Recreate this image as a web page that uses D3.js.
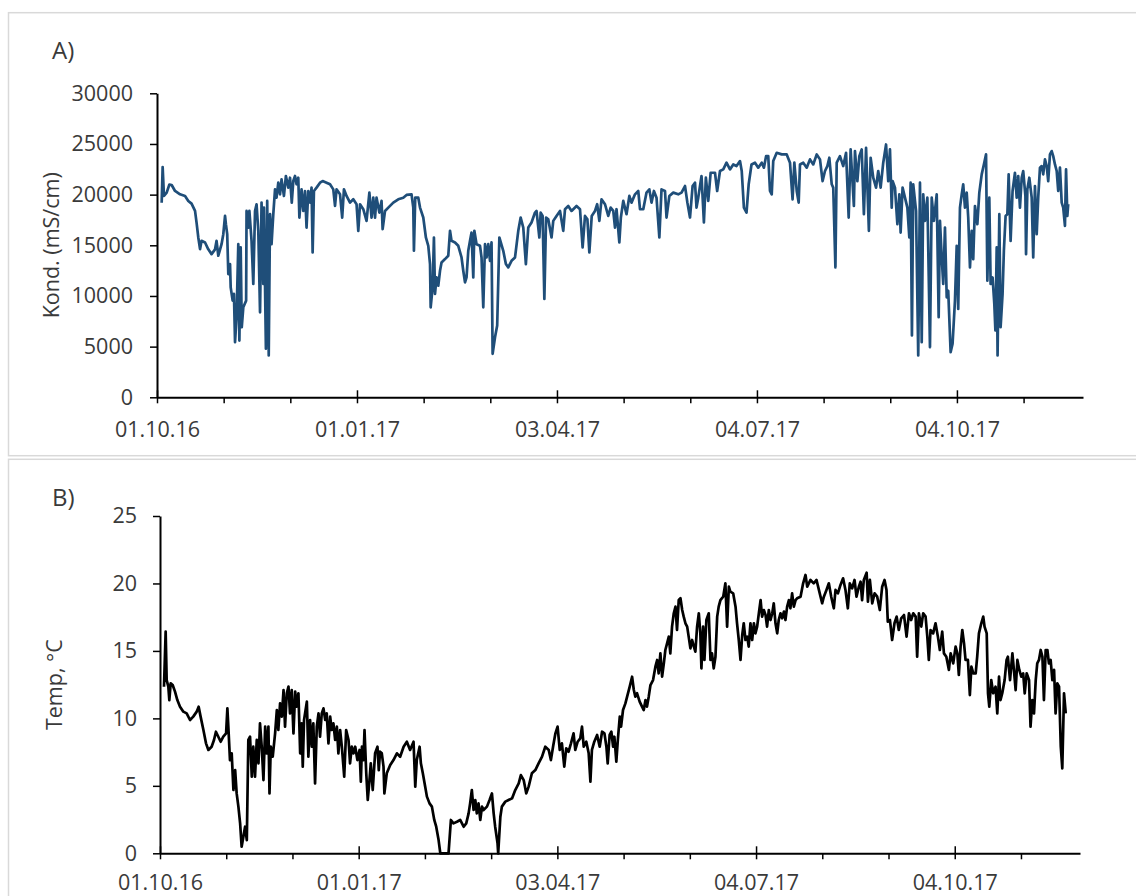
<!DOCTYPE html>
<html>
<head>
<meta charset="utf-8">
<script src="https://cdn.jsdelivr.net/npm/d3@7"></script>
<style>
    body { margin: 0; background: #fff; }
    text { font-family: "Open Sans", sans-serif; fill: #3a3a3a; }
</style>
</head>
<body>
<svg id="chart" width="1136" height="896"></svg>
<script>
'use strict';

// measurement start and labelled dates on the time axis
var startDay = "2016-10-01";
var endDay = "2017-12-01";
var majorDates = ["2016-10-01", "2017-01-01", "2017-04-03", "2017-07-04", "2017-10-04"];

var kondTicks = [0, 5000, 10000, 15000, 20000, 25000, 30000];
var tempTicks = [0, 5, 10, 15, 20, 25];

// conductivity: days after start, value in mS/cm
var kondDays = [2.15, 2.6, 3.2, 4.45, 5.7, 6.75, 8.3, 10.6, 12.9, 14.4, 15.9, 17.5, 18.2, 19.0, 19.8, 20.5,
    22.1, 23.6, 25.1, 26.7, 27.4, 28.2, 29.7, 30.5, 31.3, 31.7, 32.3, 32.8, 33.6, 33.9, 34.8, 35.4,
    35.9, 36.6, 37.4, 37.9, 38.5, 39.0, 39.7, 41.0, 41.2, 42.0, 42.5, 43.5, 44.3, 45.1, 45.8, 46.6,
    47.4, 48.1, 48.9, 49.2, 50.1, 50.7, 51.4, 52.0, 52.7, 53.5, 54.3, 55.0, 55.8, 56.6, 57.3, 58.4,
    59.3, 60.4, 61.2, 62.0, 62.7, 63.5, 64.2, 65.0, 65.5, 66.5, 67.3, 68.1, 68.8, 69.6, 70.4, 71.1,
    71.6, 72.2, 73.4, 75.0, 76.2, 78.0, 79.6, 81.1, 81.9, 82.6, 84.2, 85.2, 86.0, 87.2, 88.8, 90.3,
    91.8, 92.6, 93.4, 94.9, 96.4, 97.7, 98.7, 99.5, 100.3, 101.0, 102.3, 103.3, 103.8, 104.9, 106.4, 108.7,
    111.0, 113.3, 114.8, 117.1, 117.9, 118.2, 118.8, 120.2, 121.0, 122.5, 123.7, 124.8, 125.6, 125.9, 126.8, 127.4,
    127.9, 128.6, 129.4, 130.2, 130.9, 132.5, 134.0, 134.8, 135.5, 137.1, 138.6, 140.1, 140.9, 141.7, 142.4, 143.2,
    144.0, 144.7, 145.5, 146.0, 147.0, 148.6, 149.3, 150.1, 150.9, 151.6, 152.4, 153.2, 153.9, 154.4, 155.5, 156.5,
    157.5, 159.3, 160.5, 161.6, 163.1, 164.7, 166.2, 167.3, 168.5, 169.7, 170.8, 172.3, 173.9, 174.6, 175.9, 176.5,
    177.4, 178.2, 179.0, 180.0, 181.5, 182.3, 183.8, 185.4, 186.9, 187.7, 189.2, 190.7, 193.0, 194.6, 195.8, 196.9,
    198.0, 198.9, 200.0, 201.5, 202.5, 203.5, 204.5, 206.1, 207.6, 208.7, 209.9, 210.7, 211.4, 212.7, 213.4, 214.5,
    216.0, 217.3, 218.3, 219.9, 221.4, 222.2, 223.7, 225.2, 226.5, 227.5, 228.6, 229.8, 231.1, 232.1, 233.7, 234.4,
    235.7, 237.5, 239.8, 241.3, 242.9, 244.0, 245.2, 246.4, 247.5, 248.2, 249.0, 250.5, 251.6, 252.5, 253.6, 254.7,
    256.7, 257.7, 259.0, 260.5, 262.0, 263.6, 265.1, 266.6, 268.2, 269.0, 270.0, 271.2, 272.2, 273.5, 275.1, 276.6,
    278.2, 279.2, 280.2, 281.2, 282.0, 282.8, 283.5, 285.1, 287.4, 289.7, 291.2, 292.4, 293.2, 294.3, 295.2, 295.8,
    297.3, 298.9, 300.4, 301.9, 303.5, 305.0, 306.2, 307.3, 308.4, 309.3, 310.4, 311.1, 312.1, 312.7, 314.2, 315.7,
    317.0, 318.2, 319.1, 320.6, 321.1, 322.2, 323.1, 324.2, 325.2, 326.2, 327.5, 328.3, 329.5, 330.8, 331.8, 332.9,
    334.1, 335.4, 336.4, 337.2, 338.0, 338.4, 339.5, 340.6, 341.5, 342.1, 343.0, 344.1, 345.2, 346.1, 346.7, 347.3,
    347.9, 349.2, 350.2, 351.0, 351.8, 352.5, 353.3, 354.4, 355.6, 356.4, 357.4, 358.7, 359.6, 360.2, 361.0, 361.7,
    362.5, 363.3, 364.0, 365.1, 366.0, 367.1, 367.9, 368.6, 369.4, 370.2, 370.9, 371.7, 372.5, 373.2, 374.0, 374.8,
    375.5, 376.3, 377.4, 378.3, 379.4, 380.4, 381.4, 382.0, 382.9, 383.5, 384.4, 385.2, 385.7, 386.3, 386.7, 387.5,
    388.1, 389.0, 389.6, 390.4, 391.2, 391.8, 392.7, 393.6, 394.7, 395.5, 396.2, 397.0, 397.8, 398.5, 399.5, 399.8,
    400.4, 401.3, 402.4, 403.1, 403.9, 404.7, 405.4, 406.2, 407.0, 407.7, 408.5, 409.3, 410.0, 410.8, 411.6, 412.3,
    413.1, 413.9, 414.6, 415.4, 416.2, 416.9, 417.7, 418.2, 418.8, 419.2];
var kondValues = [19200, 22720, 19870, 20200, 21000, 20950, 20360, 20030, 19870, 19380, 19110, 18390, 17240, 15770, 14620, 15440,
    15280, 14600, 14130, 14600, 15440, 13970, 15110, 16100, 17900, 17080, 16100, 12160, 13150, 10850, 9540, 10200,
    5440, 7900, 15110, 5600, 14790, 6920, 8880, 9540, 18390, 16750, 18390, 15440, 11180, 18390, 19050, 16430,
    8390, 19210, 11180, 18720, 4790, 19380, 4130, 18070, 15110, 18070, 20520, 19700, 21180, 20030, 21510, 19870,
    21840, 20690, 21670, 19210, 21340, 21840, 21020, 21670, 17740, 20520, 18390, 20360, 16750, 20360, 19210, 20690,
    14290, 20360, 20690, 21180, 21340, 21180, 21020, 20520, 18880, 20520, 20030, 17740, 20520, 19870, 19210, 19540,
    19050, 16430, 19050, 18560, 17410, 20200, 17740, 19700, 17740, 19700, 18230, 19380, 16590, 18390, 18720, 19210,
    19540, 19700, 19970, 20030, 18720, 14460, 19700, 19700, 18720, 17740, 15770, 14950, 13150, 8880, 10850, 15770,
    10200, 11830, 11010, 12490, 13310, 13640, 13970, 16430, 15440, 15280, 14950, 13800, 12490, 11340, 11830, 14460,
    15440, 16260, 11830, 16430, 15110, 14950, 13800, 8880, 15110, 13800, 15110, 13470, 15280, 4290, 5930, 7080,
    15770, 14460, 13150, 12820, 13470, 13800, 16430, 17740, 16750, 13150, 16750, 17250, 18230, 18390, 15770, 18230,
    17900, 9700, 17740, 17570, 15770, 17410, 17900, 18390, 16430, 18560, 18880, 18390, 18880, 18560, 14790, 17900,
    17570, 14290, 17900, 18390, 19050, 17410, 19540, 19050, 17900, 18720, 18390, 16750, 18560, 15280, 17740, 19380,
    18070, 19870, 19210, 20030, 20360, 18560, 18560, 20200, 20520, 19210, 20360, 19700, 15770, 20520, 20360, 17740,
    19870, 20200, 20030, 20200, 20850, 19210, 17740, 20850, 21180, 18720, 19700, 21840, 17250, 21670, 19380, 22160,
    22160, 20360, 22330, 22490, 23150, 22490, 22980, 22820, 23310, 22330, 18720, 18230, 21020, 22980, 23150, 22660,
    23150, 22660, 23800, 23800, 20360, 20030, 23310, 24130, 23970, 23970, 23150, 19540, 23150, 20360, 19210, 22980,
    23150, 22660, 23480, 22980, 23970, 23480, 21340, 22330, 22820, 23640, 21020, 20690, 12820, 23150, 23800, 22820,
    24130, 17740, 24460, 18880, 24300, 21340, 23800, 24460, 18070, 24620, 16430, 23640, 21670, 20690, 22330, 20690,
    23150, 24950, 21340, 24460, 18720, 21340, 20690, 17080, 20030, 16260, 20690, 19700, 18720, 15770, 21180, 6100,
    21020, 18390, 4130, 21180, 5440, 20030, 17410, 19700, 4950, 19700, 17410, 20030, 7900, 17410, 13800, 11180,
    16750, 9870, 10520, 4460, 5280, 9540, 14950, 8720, 18720, 20030, 21020, 18720, 20200, 17740, 12820, 16430,
    13640, 18880, 17080, 20200, 22000, 22980, 23970, 11510, 19700, 11180, 11830, 9210, 6590, 14790, 4130, 18070,
    6920, 10200, 14460, 17900, 18070, 22000, 15440, 20360, 22160, 19700, 21840, 18720, 21670, 22330, 19870, 14130,
    20520, 21670, 19700, 13800, 20850, 16100, 19700, 22660, 22820, 22000, 23480, 22820, 21340, 23970, 24300, 23800,
    22980, 22330, 20360, 22660, 19210, 18720, 16920, 22490, 17900, 19050];

// water temperature: days after start, value in °C
var tempDays = [1.85, 2.62, 3.09, 3.86, 4.32, 4.94, 5.87, 6.95, 8.03, 9.27, 10.81, 12.35, 13.9, 15.4, 17.0, 17.9,
    18.8, 20.1, 21.3, 22.4, 23.9, 25.0, 25.9, 27.0, 28.1, 29.3, 30.6, 31.2, 31.8, 32.4, 33.2, 34.0,
    34.8, 35.5, 36.3, 37.1, 37.8, 38.6, 39.4, 40.2, 40.9, 41.7, 42.5, 43.2, 44.0, 44.8, 45.6, 46.3,
    47.1, 47.9, 48.7, 49.4, 50.2, 50.7, 51.3, 52.2, 53.3, 54.1, 54.8, 55.6, 56.4, 57.2, 57.9, 58.7,
    59.5, 60.2, 61.0, 61.8, 62.6, 63.3, 64.1, 64.9, 65.6, 66.1, 66.7, 68.0, 68.7, 69.5, 70.3, 71.0,
    71.8, 72.6, 73.4, 74.1, 74.9, 75.7, 76.5, 77.2, 78.0, 78.8, 79.5, 80.3, 81.1, 81.9, 82.6, 83.4,
    84.2, 85.3, 86.2, 87.3, 88.0, 88.8, 89.6, 90.4, 91.4, 92.4, 93.0, 93.5, 94.2, 94.7, 95.5, 96.2,
    97.0, 97.6, 98.5, 99.6, 100.7, 101.3, 101.9, 102.7, 103.5, 103.9, 105.0, 106.6, 108.1, 109.7, 111.2, 112.8,
    114.3, 115.8, 117.4, 118.2, 118.9, 120.2, 120.8, 121.7, 122.8, 123.6, 124.8, 125.9, 127.0, 127.9, 129.0, 129.8,
    133.6, 134.7, 135.9, 137.5, 139.0, 140.6, 141.8, 142.9, 143.6, 144.4, 145.2, 146.0, 146.7, 147.5, 148.3, 149.1,
    149.8, 151.4, 152.6, 153.7, 154.5, 155.2, 156.3, 156.6, 157.6, 158.3, 159.9, 161.4, 163.0, 164.5, 166.1, 167.1,
    168.4, 169.6, 170.7, 172.2, 173.8, 175.3, 176.9, 178.4, 180.0, 181.0, 182.0, 183.1, 184.1, 185.1, 186.1, 187.2,
    188.1, 189.2, 190.3, 191.5, 192.3, 193.4, 194.6, 195.4, 196.2, 197.4, 198.5, 199.3, 200.0, 201.1, 202.4, 203.6,
    204.7, 205.8, 206.7, 207.3, 208.2, 209.0, 209.8, 210.4, 211.3, 212.0, 212.9, 213.5, 214.4, 215.5, 216.3, 217.5,
    218.6, 219.4, 220.1, 220.9, 222.1, 223.2, 224.0, 224.8, 225.5, 226.3, 227.1, 228.3, 229.4, 230.2, 230.9, 231.7,
    232.5, 233.3, 234.0, 234.8, 235.6, 236.3, 237.1, 237.9, 238.7, 239.4, 240.2, 241.0, 241.8, 242.5, 243.3, 244.1,
    244.8, 245.6, 246.4, 247.2, 247.9, 248.7, 249.5, 250.2, 250.7, 251.5, 252.1, 253.0, 254.1, 254.9, 255.6, 256.4,
    257.2, 258.0, 258.7, 259.5, 260.8, 261.8, 262.6, 263.4, 264.1, 265.4, 266.5, 267.2, 268.0, 268.8, 269.6, 270.3,
    271.1, 271.9, 272.6, 273.4, 274.2, 275.0, 275.7, 276.5, 277.3, 278.1, 278.8, 279.6, 280.4, 281.1, 281.9, 282.7,
    283.5, 284.2, 285.0, 285.8, 286.5, 287.3, 288.1, 288.9, 289.6, 290.4, 291.2, 291.9, 292.7, 293.5, 294.3, 295.0,
    296.6, 297.8, 298.9, 299.7, 301.2, 302.7, 304.0, 305.1, 306.6, 307.4, 308.6, 309.7, 310.8, 312.0, 312.8, 313.9,
    315.1, 316.3, 317.4, 318.5, 319.4, 320.5, 321.6, 322.5, 323.6, 324.4, 325.1, 325.9, 327.2, 327.8, 328.7, 329.8,
    330.9, 332.1, 333.3, 334.4, 335.5, 336.4, 337.0, 338.0, 339.0, 340.1, 341.1, 342.1, 343.2, 344.5, 345.7, 346.8,
    347.8, 348.8, 349.9, 350.6, 351.4, 352.5, 353.4, 354.5, 355.3, 356.0, 356.8, 358.0, 359.1, 360.2, 361.1, 362.2,
    363.0, 364.1, 365.3, 366.1, 367.3, 368.4, 369.2, 369.9, 370.7, 371.5, 372.3, 373.0, 374.1, 375.0, 375.7, 376.6,
    377.7, 378.4, 379.2, 380.3, 381.2, 381.8, 382.8, 383.4, 384.0, 384.9, 385.8, 386.9, 387.7, 388.5, 389.2, 390.0,
    391.1, 392.0, 392.6, 393.6, 394.7, 395.4, 396.2, 397.0, 397.9, 398.8, 399.7, 400.4, 401.3, 402.4, 403.1, 403.9,
    404.7, 405.5, 406.2, 407.0, 407.8, 408.6, 409.3, 410.1, 410.9, 411.6, 412.4, 413.2, 414.0, 414.7, 415.5, 416.3,
    417.1, 417.8, 418.6, 419.4];
var tempValues = [12.35, 16.43, 12.84, 12.35, 11.36, 12.60, 12.47, 11.98, 11.36, 10.87, 10.50, 10.37, 9.88, 10.13, 10.50, 10.87,
    10.13, 9.14, 8.15, 7.66, 7.90, 8.40, 9.01, 8.64, 8.27, 8.64, 8.89, 10.74, 8.89, 6.91, 7.41, 4.69,
    6.17, 4.44, 3.46, 2.22, 0.49, 1.23, 1.97, 0.98, 8.40, 8.64, 5.68, 7.90, 5.68, 8.40, 6.67, 9.63,
    7.90, 5.43, 9.39, 7.41, 9.39, 4.44, 7.90, 7.16, 8.89, 10.62, 9.14, 11.11, 10.13, 12.10, 9.39, 11.86,
    12.35, 10.37, 12.10, 8.89, 11.98, 10.87, 11.86, 7.41, 9.63, 6.42, 9.88, 11.24, 7.16, 9.88, 7.90, 9.63,
    5.18, 9.39, 10.37, 8.64, 10.37, 10.74, 9.88, 10.37, 8.15, 10.13, 9.14, 9.63, 8.40, 9.39, 7.41, 9.14,
    7.90, 5.68, 9.14, 8.40, 6.67, 7.90, 7.41, 7.90, 6.91, 7.66, 5.31, 7.90, 6.91, 9.14, 5.93, 3.95,
    5.43, 6.67, 4.69, 7.41, 7.90, 6.17, 7.53, 7.41, 6.42, 4.44, 5.93, 6.54, 6.91, 7.41, 7.16, 7.90,
    8.27, 7.66, 8.27, 4.94, 6.91, 7.90, 6.67, 5.93, 4.94, 4.20, 3.70, 3.46, 2.47, 1.97, 0.98, 0,
    0, 2.47, 2.22, 2.34, 2.47, 1.97, 2.22, 2.96, 3.70, 4.69, 3.21, 3.95, 2.96, 3.70, 2.47, 3.46,
    3.21, 3.46, 3.95, 4.44, 2.96, 1.97, 0.74, 0, 2.71, 3.46, 3.83, 3.95, 4.07, 4.69, 5.18, 5.80,
    5.43, 4.44, 4.94, 5.93, 6.17, 6.67, 7.16, 7.90, 7.66, 6.91, 7.90, 8.89, 9.39, 7.66, 8.15, 6.42,
    7.78, 7.53, 8.15, 8.89, 7.66, 8.27, 8.52, 9.39, 7.90, 8.27, 7.41, 5.31, 7.66, 8.27, 8.77, 7.90,
    9.01, 8.89, 7.90, 6.67, 8.77, 9.01, 7.90, 8.64, 6.79, 8.40, 10.13, 9.39, 10.62, 11.11, 11.61, 12.35,
    13.09, 12.10, 11.61, 11.86, 11.24, 10.87, 10.62, 11.36, 10.87, 11.61, 12.47, 12.84, 13.83, 14.33, 13.34, 14.82,
    13.09, 14.08, 15.07, 15.56, 16.06, 14.82, 16.80, 17.79, 18.28, 16.55, 18.77, 18.90, 18.03, 17.54, 17.05, 16.80,
    16.06, 15.19, 15.81, 15.32, 14.94, 16.80, 17.79, 16.30, 13.71, 16.80, 14.33, 17.29, 17.79, 14.33, 14.82, 13.71,
    14.57, 17.54, 18.28, 18.77, 19.02, 20.01, 16.80, 19.76, 19.39, 19.27, 18.28, 17.05, 15.81, 14.33, 16.18, 17.05,
    15.81, 16.06, 15.32, 17.05, 15.81, 17.05, 16.30, 16.80, 17.79, 18.77, 17.54, 18.03, 17.66, 16.80, 18.03, 17.29,
    17.79, 18.53, 17.05, 16.30, 17.29, 17.79, 17.42, 17.91, 17.29, 18.28, 18.77, 18.16, 19.27, 18.28, 18.77, 18.90,
    19.02, 20.01, 20.63, 19.76, 20.26, 20.01, 20.26, 19.52, 18.53, 19.02, 19.52, 20.01, 19.02, 18.16, 19.52, 19.27,
    19.89, 20.38, 19.52, 18.16, 20.01, 19.64, 20.26, 19.02, 19.76, 20.13, 18.77, 20.26, 20.80, 18.65, 20.26, 18.53,
    19.27, 19.02, 18.03, 19.76, 20.26, 19.52, 17.17, 17.29, 15.81, 17.05, 17.54, 16.55, 17.42, 17.66, 16.06, 17.79,
    17.29, 17.79, 17.54, 14.57, 17.79, 16.80, 17.79, 17.54, 16.06, 14.33, 16.55, 16.30, 17.05, 16.06, 15.07, 16.43,
    14.82, 14.57, 13.59, 14.82, 14.08, 15.32, 14.82, 13.22, 15.32, 16.55, 15.56, 14.33, 14.33, 11.73, 13.83, 13.34,
    13.34, 14.57, 16.30, 17.05, 17.54, 16.80, 16.30, 11.86, 10.87, 12.84, 11.86, 12.35, 10.37, 13.09, 11.36, 11.86,
    12.84, 14.33, 14.57, 12.84, 14.82, 13.59, 12.10, 14.33, 13.59, 13.09, 13.34, 11.86, 13.34, 12.84, 9.39, 11.36,
    10.37, 12.84, 14.08, 14.33, 15.07, 14.57, 11.36, 15.07, 15.07, 14.08, 14.33, 12.84, 13.59, 10.37, 12.59, 12.35,
    7.90, 6.30, 11.86, 10.37];

var svg = d3.select("#chart");
var parseDay = d3.utcParse("%Y-%m-%d");
var formatTick = d3.utcFormat("%d.%m.%y");
var start = parseDay(startDay);

function dayToDate(d) {
    return new Date(start.getTime() + d * 864e5);
}

var majors = majorDates.map(parseDay);
var end = parseDay(endDay);

// minor ticks split every major interval in three
var minors = [];
majors.forEach(function (m, i) {
    var step = i < majors.length - 1 ? (majors[i + 1] - m) / 3 : (majors[1] - majors[0]) / 3;
    [1, 2].forEach(function (k) {
        var t = new Date(+m + k * step);
        if (t <= end) minors.push(t);
    });
});

var panels = [
    {
        frameTop: 12.7, frameBottom: 455.7,
        left: 157, right: 1083, top: 93.3, bottom: 397.3,
        yMax: 30000, yTicks: kondTicks,
        days: kondDays, values: kondValues, color: "#1f4e79",
        letter: "A)", letterY: 59,
        title: "Kond. (mS/cm)", titleX: 58.7, labelPad: 17, xLabelY: 39.4
    },
    {
        frameTop: 459.3, frameBottom: 960,
        left: 160, right: 1080, top: 516, bottom: 853.3,
        yMax: 25, yTicks: tempTicks,
        days: tempDays, values: tempValues, color: "#000000",
        letter: "B)", letterY: 505.5,
        title: "Temp, °C", titleX: 62, labelPad: 16, xLabelY: 36.5
    }
];

panels.forEach(drawPanel);

function drawPanel(p) {
    // light chart-area frame
    svg.append("rect")
        .attr("x", 8.5)
        .attr("y", p.frameTop)
        .attr("width", 1200)
        .attr("height", p.frameBottom - p.frameTop)
        .attr("fill", "none")
        .attr("stroke", "#d9d9d9")
        .attr("stroke-width", 1.5);

    var x = d3.scaleUtc().domain([start, end]).range([p.left, p.right]);
    var y = d3.scaleLinear().domain([0, p.yMax]).range([p.bottom, p.top]);

    // y axis
    var yAxis = svg.append("g")
        .attr("transform", "translate(" + p.left + ",0)")
        .call(d3.axisLeft(y).tickValues(p.yTicks).tickSize(7).tickSizeOuter(0)
            .tickPadding(p.labelPad).tickFormat(d3.format("d")));
    yAxis.select(".domain").attr("stroke", "#000").attr("stroke-width", 2);
    yAxis.selectAll(".tick line").attr("stroke", "#000").attr("stroke-width", 1.5);
    yAxis.selectAll("text").style("font-size", "21.5px").attr("fill", "#3a3a3a");

    // minor x ticks (outside only)
    var minorAxis = svg.append("g")
        .attr("transform", "translate(0," + p.bottom + ")")
        .call(d3.axisBottom(x).tickValues(minors).tickSize(6).tickFormat(""));
    minorAxis.select(".domain").remove();
    minorAxis.selectAll(".tick line").attr("stroke", "#000").attr("stroke-width", 1.5);

    // major x ticks (crossing the axis)
    var xAxis = svg.append("g")
        .attr("transform", "translate(0," + p.bottom + ")")
        .call(d3.axisBottom(x).tickValues(majors).tickSize(6).tickSizeOuter(0).tickFormat(formatTick));
    xAxis.select(".domain").attr("stroke", "#000").attr("stroke-width", 2);
    xAxis.selectAll(".tick line").attr("y1", -7).attr("stroke", "#000").attr("stroke-width", 1.5);
    xAxis.selectAll("text")
        .attr("y", p.xLabelY)
        .attr("dy", null)
        .style("font-size", "21.5px")
        .attr("fill", "#3a3a3a");

    // series line
    var points = p.days.map(function (d, i) {
        return { date: dayToDate(d), value: p.values[i] };
    });

    var line = d3.line()
        .x(function (d) { return x(d.date); })
        .y(function (d) { return y(d.value); });

    svg.append("path")
        .datum(points)
        .attr("d", line)
        .attr("fill", "none")
        .attr("stroke", p.color)
        .attr("stroke-width", 2.7)
        .attr("stroke-linejoin", "round");

    // panel letter
    svg.append("text")
        .attr("x", 52)
        .attr("y", p.letterY)
        .style("font-size", "24px")
        .text(p.letter);

    // y axis title
    svg.append("text")
        .attr("transform", "translate(" + p.titleX + "," + ((p.top + p.bottom) / 2) + ") rotate(-90)")
        .attr("text-anchor", "middle")
        .style("font-size", "21.5px")
        .text(p.title);
}
</script>
</body>
</html>
